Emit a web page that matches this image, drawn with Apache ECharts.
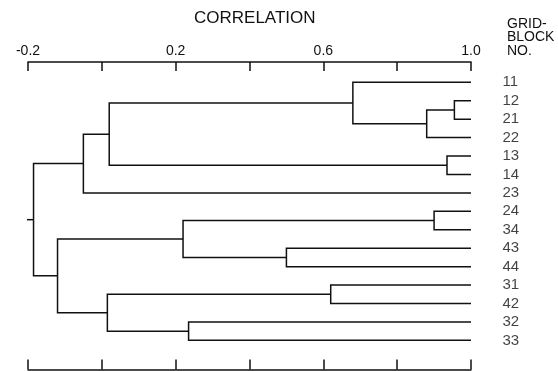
<!DOCTYPE html>
<html>
<head>
<meta charset="utf-8">
<script src="https://cdn.jsdelivr.net/npm/echarts@6/dist/echarts.min.js"></script>
<style>
  html, body { margin: 0; padding: 0; background: #fff; }
  #main { width: 558px; height: 371px; }
</style>
</head>
<body>
<div id="main"></div>
<script>
// grid-block numbers, top to bottom
var leaves = ['11', '12', '21', '22', '13', '14', '23', '24', '34', '43', '44', '31', '42', '32', '33'];
// merges: [child a, child b, correlation]; leaves are 0..14, merge k becomes node 15+k
var merges = [
  [1, 2, 0.955],
  [15, 3, 0.88],
  [0, 16, 0.68],
  [4, 5, 0.935],
  [17, 18, 0.02],
  [19, 6, -0.05],
  [7, 8, 0.9],
  [9, 10, 0.5],
  [21, 22, 0.22],
  [11, 12, 0.62],
  [13, 14, 0.235],
  [24, 25, 0.015],
  [23, 26, -0.12],
  [20, 27, -0.185]
];
var rootStub = -0.21;
var corrLabels = ['-0.2', '0.2', '0.6', '1.0'];

var font = '"Liberation Sans", Arial, sans-serif';
var ink = '#111';

// positions of each node
var nodeX = [], nodeY = [];
leaves.forEach(function (l, i) { nodeX.push(1.0); nodeY.push(i); });
var links = [];
merges.forEach(function (m) {
  var a = m[0], b = m[1];
  links.push([m[2], nodeY[a], nodeY[b], nodeX[a], nodeX[b]]);
  nodeX.push(m[2]);
  nodeY.push((nodeY[a] + nodeY[b]) / 2);
});
var root = nodeX.length - 1;

function renderLink(params, api) {
  var m = api.value(0), ya = api.value(1), yb = api.value(2), xa = api.value(3), xb = api.value(4);
  return {
    type: 'polyline',
    shape: { points: [api.coord([xa, ya]), api.coord([m, ya]), api.coord([m, yb]), api.coord([xb, yb])] },
    style: { stroke: ink, lineWidth: 1.5, fill: null }
  };
}

var chart = echarts.init(document.getElementById('main'));
var option = {
  animation: false,
  title: [{
    text: 'CORRELATION',
    left: 189, top: 5,
    textStyle: { fontFamily: font, fontSize: 17, fontWeight: 'normal', color: ink }
  }, {
    text: 'GRID-\nBLOCK\nNO.',
    left: 502, top: 12,
    textStyle: { fontFamily: font, fontSize: 14, fontWeight: 'normal', color: ink, lineHeight: 13.5 }
  }],
  grid: { left: 28, right: 87, top: 62, bottom: 1.5 },
  xAxis: [{
    type: 'value', position: 'top', min: -0.2, max: 1.0, interval: 0.2,
    axisLine: { onZero: false, lineStyle: { color: ink, width: 1.5 } },
    axisTick: { inside: true, length: 9, lineStyle: { color: ink, width: 1.5 } },
    axisLabel: {
      margin: 4, fontFamily: font, fontSize: 14, color: ink,
      formatter: function (v) {
        var s = v.toFixed(1);
        return corrLabels.indexOf(s) >= 0 ? s : '';
      }
    },
    splitLine: { show: false }
  }, {
    type: 'value', position: 'bottom', min: -0.2, max: 1.0, interval: 0.2,
    axisLine: { onZero: false, lineStyle: { color: ink, width: 1.5 } },
    axisTick: { inside: true, length: 10, lineStyle: { color: ink, width: 1.5 } },
    axisLabel: { show: false },
    splitLine: { show: false }
  }],
  yAxis: {
    type: 'value', inverse: true, min: -1.1, max: 15.58, show: false
  },
  series: [{
    type: 'custom',
    renderItem: renderLink,
    clip: false,
    encode: { x: [0, 3, 4], y: [1, 2] },
    data: links
  }, {
    type: 'line',
    clip: false,
    symbol: 'none',
    lineStyle: { color: ink, width: 1.5 },
    data: [[rootStub, nodeY[root]], [nodeX[root], nodeY[root]]]
  }, {
    type: 'scatter',
    symbolSize: 1,
    itemStyle: { color: 'rgba(0,0,0,0)' },
    label: {
      show: true, position: 'right', distance: 31,
      fontFamily: font, fontSize: 15, color: ink,
      formatter: function (p) { return p.data[2]; }
    },
    data: leaves.map(function (l, i) { return [1.0, i, l]; })
  }]
};
chart.setOption(option);
</script>
</body>
</html>
